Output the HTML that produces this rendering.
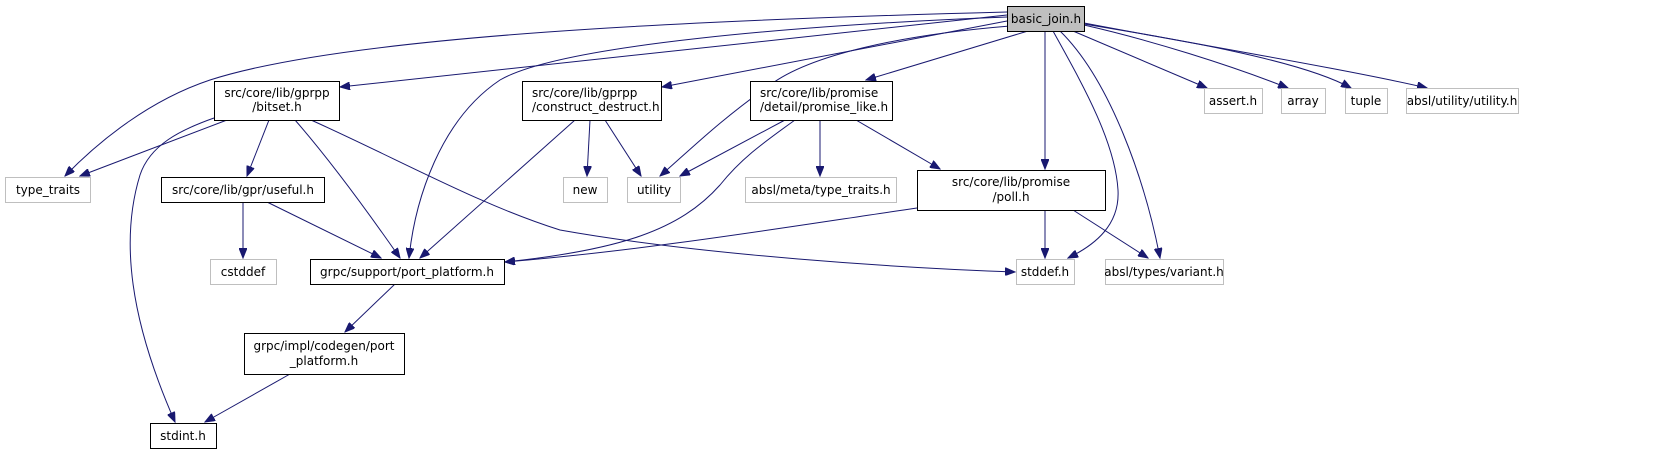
<!DOCTYPE html>
<html><head><meta charset="utf-8"><style>
html,body{margin:0;padding:0;background:#fff;}
svg{display:block;}
text{font-family:"DejaVu Sans","Liberation Sans",sans-serif;font-size:12px;fill:#000;}
.e{fill:none;stroke:#191970;stroke-width:1;}
.n{fill:#fff;stroke:#000;stroke-width:1;}
.g{fill:#fff;stroke:#bfbfbf;stroke-width:1;}
</style></head><body>
<svg width="1665" height="455" viewBox="0 0 1665 455" xmlns="http://www.w3.org/2000/svg">
<defs><marker id="a" markerUnits="userSpaceOnUse" markerWidth="11" markerHeight="8" refX="10" refY="4" orient="auto"><path d="M0,0 L10,4 L0,8 z" fill="#191970" stroke="#191970"/></marker></defs>
<g marker-end="url(#a)">
<path class="e" d="M1007,12 C700,20 350,35 210,80 C150,100 100,140 65,176"/>
<path class="e" d="M1007,15 L340,87"/>
<path class="e" d="M1007,17 C800,25 560,45 500,80 C440,120 415,200 409,258"/>
<path class="e" d="M1007,21 L662,87"/>
<path class="e" d="M1010,26 C900,35 810,55 770,85 C720,120 690,150 660,176"/>
<path class="e" d="M1028,31 L866,80"/>
<path class="e" d="M1045,31 L1045,169"/>
<path class="e" d="M1053,31 C1080,80 1115,140 1118,190 C1120,225 1095,245 1068,258"/>
<path class="e" d="M1060,31 C1110,80 1145,180 1160,258"/>
<path class="e" d="M1073,31 L1207,88"/>
<path class="e" d="M1084,25 C1150,40 1230,65 1288,88"/>
<path class="e" d="M1084,24 C1180,40 1300,60 1351,88"/>
<path class="e" d="M1084,23 C1200,45 1350,70 1427,88"/>
<path class="e" d="M227,120 L80,176"/>
<path class="e" d="M214,118 C180,130 150,145 140,175 C120,240 130,320 175,422"/>
<path class="e" d="M269,120 L247,176"/>
<path class="e" d="M295,120 C330,160 370,215 400,258"/>
<path class="e" d="M311,120 C400,160 480,205 560,230 C700,255 900,268 1015,272"/>
<path class="e" d="M575,120 L420,258"/>
<path class="e" d="M590,120 L587,176"/>
<path class="e" d="M605,120 L641,176"/>
<path class="e" d="M785,120 L680,176"/>
<path class="e" d="M795,120 C760,145 740,160 720,185 C680,230 620,250 505,262"/>
<path class="e" d="M820,120 L820,176"/>
<path class="e" d="M856,120 L940,169"/>
<path class="e" d="M243,202 L243,258"/>
<path class="e" d="M267,202 L381,258"/>
<path class="e" d="M917,208 C800,225 650,250 505,262"/>
<path class="e" d="M1045,210 L1045,258"/>
<path class="e" d="M1073,210 L1148,258"/>
<path class="e" d="M395,284 L345,332"/>
<path class="e" d="M290,374 L205,422"/>
</g>
<rect x="1007.5" y="6.5" width="77" height="25" fill="#bfbfbf" stroke="#000"/><text x="1046" y="23" text-anchor="middle">basic_join.h</text>
<rect class="n" x="214.5" y="81.5" width="125" height="39"/><text x="277" y="97" text-anchor="middle">src/core/lib/gprpp</text><text x="277" y="111" text-anchor="middle">/bitset.h</text>
<rect class="g" x="5.5" y="177.5" width="85" height="25"/><text x="48" y="194" text-anchor="middle">type_traits</text>
<rect class="n" x="161.5" y="177.5" width="163" height="25"/><text x="243" y="194" text-anchor="middle">src/core/lib/gpr/useful.h</text>
<rect class="g" x="210.5" y="259.5" width="66" height="25"/><text x="243" y="276" text-anchor="middle">cstddef</text>
<rect class="n" x="310.5" y="259.5" width="194" height="25"/><text x="407" y="276" text-anchor="middle">grpc/support/port_platform.h</text>
<rect class="n" x="244.5" y="333.5" width="160" height="41"/><text x="324" y="350" text-anchor="middle">grpc/impl/codegen/port</text><text x="324" y="365" text-anchor="middle">_platform.h</text>
<rect class="n" x="150.5" y="423.5" width="66" height="25"/><text x="183" y="440" text-anchor="middle">stdint.h</text>
<rect class="n" x="522.5" y="81.5" width="139" height="39"/><text x="532" y="97">src/core/lib/gprpp</text><text x="532" y="111">/construct_destruct.h</text>
<rect class="g" x="563.5" y="177.5" width="44" height="25"/><text x="585" y="194" text-anchor="middle">new</text>
<rect class="g" x="627.5" y="177.5" width="53" height="25"/><text x="654" y="194" text-anchor="middle">utility</text>
<rect class="n" x="750.5" y="81.5" width="142" height="39"/><text x="760" y="97">src/core/lib/promise</text><text x="760" y="111">/detail/promise_like.h</text>
<rect class="g" x="745.5" y="177.5" width="151" height="25"/><text x="821" y="194" text-anchor="middle">absl/meta/type_traits.h</text>
<rect class="n" x="917.5" y="170.5" width="188" height="40"/><text x="1011" y="186" text-anchor="middle">src/core/lib/promise</text><text x="1011" y="201" text-anchor="middle">/poll.h</text>
<rect class="g" x="1016.5" y="259.5" width="58" height="25"/><text x="1045" y="276" text-anchor="middle">stddef.h</text>
<rect class="g" x="1105.5" y="259.5" width="118" height="25"/><text x="1164" y="276" text-anchor="middle">absl/types/variant.h</text>
<rect class="g" x="1204.5" y="88.5" width="58" height="25"/><text x="1233" y="105" text-anchor="middle">assert.h</text>
<rect class="g" x="1281.5" y="88.5" width="44" height="25"/><text x="1303" y="105" text-anchor="middle">array</text>
<rect class="g" x="1345.5" y="88.5" width="42" height="25"/><text x="1366" y="105" text-anchor="middle">tuple</text>
<rect class="g" x="1406.5" y="88.5" width="112" height="25"/><text x="1462" y="105" text-anchor="middle">absl/utility/utility.h</text>
</svg>
</body></html>
